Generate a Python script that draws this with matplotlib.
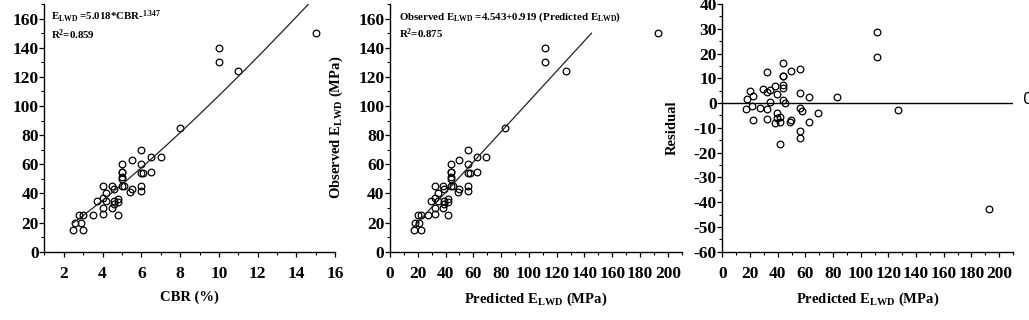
import matplotlib
matplotlib.use("Agg")
import matplotlib.pyplot as plt
from matplotlib.ticker import MultipleLocator
import numpy as np

# ---- data ----
cbr = [2.5, 2.6, 2.8, 2.9, 3.0, 3.0, 3.5, 3.7, 4.0, 4.0, 4.0, 4.0, 4.2, 4.2,
       4.5, 4.6, 4.5, 4.6, 4.6, 4.8, 4.8, 4.8, 5.0, 5.0, 5.0, 5.0, 5.0, 5.0,
       5.1, 5.4, 5.5, 5.5, 6.0, 6.0, 6.0, 6.1, 6.0, 6.0, 6.5, 6.5, 7.0, 8.0,
       10.0, 10.0, 11.0, 15.0]
observed = [15, 20, 25, 20, 25, 15, 25, 35, 45, 37, 30, 26, 40, 35,
            45, 43, 30, 35, 33, 36, 34, 25, 60, 55, 55, 51, 50, 45,
            45, 41, 43, 63, 70, 60, 54, 54, 45, 42, 65, 55, 65, 85,
            140, 130, 124, 150]
predicted = [17.2, 18.2, 20.1, 21.1, 22.0, 22.0, 27.1, 29.2, 32.5, 32.5, 32.5, 32.5, 34.7, 34.7,
             38.1, 39.2, 38.1, 39.2, 39.2, 41.5, 41.5, 41.5, 43.9, 43.9, 43.9, 43.9, 43.9, 43.9,
             45.0, 48.7, 49.9, 49.9, 56.1, 56.1, 56.1, 57.3, 56.1, 56.1, 62.5, 62.5, 69.0, 82.6,
             111.5, 111.5, 126.9, 192.7]
residual = [-2.2, 1.8, 4.9, -1.1, 3.0, -7.0, -2.1, 5.8, 12.5, 4.5, -2.5, -6.5, 5.3, 0.3,
            6.9, 3.8, -8.1, -4.2, -6.2, -5.5, -7.5, -16.5, 16.1, 11.1, 11.1, 7.1, 6.1, 1.1,
            0.0, -7.7, -6.9, 13.1, 13.9, 3.9, -2.1, -3.3, -11.1, -14.1, 2.5, -7.5, -4.0, 2.4,
            28.5, 18.5, -2.9, -42.7]

# tick values
cbr_ticks = [2, 4, 6, 8, 10, 12, 14, 16]
elwd_ticks = [0, 20, 40, 60, 80, 100, 120, 140, 160]
pred_ticks = [0, 20, 40, 60, 80, 100, 120, 140, 160, 180, 200]
resid_ticks = [-60, -50, -40, -30, -20, -10, 0, 10, 20, 30, 40]

# drawn fit curves (as they appear in the picture)
fit1_a, fit1_b = 6.53, 1.215
fit1_xrange = (2.5, 16.0)
fit2_intercept, fit2_slope = -0.75, 1.039
fit2_xrange = (16.5, 145.0)

eq1 = "E$_{LWD}$ =5.018*CBR-$^{1.347}$"
r2_1 = "R$^{2}$=0.859"
eq2 = "Observed E$_{LWD}$ =4.543+0.919 (Predicted E$_{LWD}$)"
r2_2 = "R$^{2}$=0.875"

plt.rcParams["font.family"] = ["Liberation Serif", "DejaVu Serif"]
plt.rcParams["font.weight"] = "bold"
plt.rcParams["mathtext.default"] = "regular"
plt.rcParams["axes.unicode_minus"] = False

W, H = 1029, 320
fig = plt.figure(figsize=(W / 100, H / 100), dpi=100)

def make_ax(left, right, top=4.0, bottom=251.7):
    return fig.add_axes([left / W, (H - bottom) / H, (right - left) / W, (bottom - top) / H])

ax1 = make_ax(44.3, 335.3)
ax2 = make_ax(390.0, 681.7)
ax3 = make_ax(722.3, 1013.0)

LABEL_FS = 10.5
TICK_FS = 12.5

for ax in (ax1, ax2, ax3):
    ax.spines["top"].set_visible(False)
    ax.spines["right"].set_visible(False)
    for s in ("left", "bottom"):
        ax.spines[s].set_linewidth(1.0)
    ax.tick_params(which="major", direction="out", length=3.5, width=0.9)
    ax.tick_params(which="minor", direction="out", length=2.0, width=0.8)
    ax.tick_params(axis="x", which="major", pad=6.5)
    ax.tick_params(axis="y", which="major", pad=0.5)

def set_ticks(ax, xt, yt):
    ax.set_xticks(xt, [str(v) for v in xt], fontsize=TICK_FS, fontweight="bold")
    ax.set_yticks(yt, [str(v) for v in yt], fontsize=TICK_FS, fontweight="bold")

mk = dict(marker="o", markersize=4.8, markerfacecolor="none", markeredgecolor="black",
          markeredgewidth=0.9, linestyle="none")

# panel 1
ax1.plot(cbr, observed, **mk)
xf = np.linspace(fit1_xrange[0], fit1_xrange[1], 200)
ax1.plot(xf, fit1_a * xf ** fit1_b, color="#222222", lw=0.9)
set_ticks(ax1, cbr_ticks, elwd_ticks)
ax1.set_xlim(1, 16)
ax1.set_ylim(0, 170)
ax1.xaxis.set_minor_locator(MultipleLocator(1))
ax1.yaxis.set_minor_locator(MultipleLocator(10))
ax1.set_xlabel("CBR (%)", fontsize=LABEL_FS, fontweight="bold")
ax1.set_ylabel("E$_{LWD}$ (MPa)", fontsize=LABEL_FS, fontweight="bold")
ax1.text(0.023, 0.932, eq1, transform=ax1.transAxes, fontsize=7.8, fontweight="bold", va="baseline")
ax1.text(0.023, 0.858, r2_1, transform=ax1.transAxes, fontsize=7.8, fontweight="bold", va="baseline")

# panel 2
ax2.plot(predicted, observed, **mk)
xf2 = np.linspace(fit2_xrange[0], fit2_xrange[1], 2)
ax2.plot(xf2, fit2_intercept + fit2_slope * xf2, color="#222222", lw=0.9)
set_ticks(ax2, pred_ticks, elwd_ticks)
ax2.set_xlim(0, 210)
ax2.set_ylim(0, 170)
ax2.xaxis.set_minor_locator(MultipleLocator(10))
ax2.yaxis.set_minor_locator(MultipleLocator(10))
ax2.set_xlabel("Predicted E$_{LWD}$ (MPa)", fontsize=LABEL_FS, fontweight="bold")
ax2.set_ylabel("Observed E$_{LWD}$ (MPa)", fontsize=LABEL_FS, fontweight="bold")
ax2.text(0.032, 0.935, eq2, transform=ax2.transAxes, fontsize=7.8, fontweight="bold", va="baseline")
ax2.text(0.032, 0.862, r2_2, transform=ax2.transAxes, fontsize=7.8, fontweight="bold", va="baseline")

# panel 3
ax3.plot(predicted, residual, **mk)
ax3.axhline(0, color="black", lw=1.0)
set_ticks(ax3, pred_ticks, resid_ticks)
ax3.set_xlim(0, 210)
ax3.set_ylim(-60, 40)
ax3.xaxis.set_minor_locator(MultipleLocator(10))
ax3.yaxis.set_minor_locator(MultipleLocator(5))
ax3.set_xlabel("Predicted E$_{LWD}$ (MPa)", fontsize=LABEL_FS, fontweight="bold")
ax3.set_ylabel("Residual", fontsize=LABEL_FS, fontweight="bold")
fig.text(1023.5 / W, 1 - 100 / H, "0", fontsize=11, family="DejaVu Sans",
         fontweight="normal", va="center", ha="left")

# label placement (axes coordinates)
xlab_y = (251.7 - 291.0) / 247.7
for ax in (ax1, ax2, ax3):
    ax.xaxis.set_label_coords(0.5, xlab_y)
ax1.yaxis.set_label_coords((3.0 - 44.3) / 291.0, 0.5)
ax2.yaxis.set_label_coords((345.0 - 390.0) / 291.7, 0.5)
ax3.yaxis.set_label_coords((678.5 - 722.3) / 290.7, 0.5)

fig.savefig("out.png", dpi=100)
